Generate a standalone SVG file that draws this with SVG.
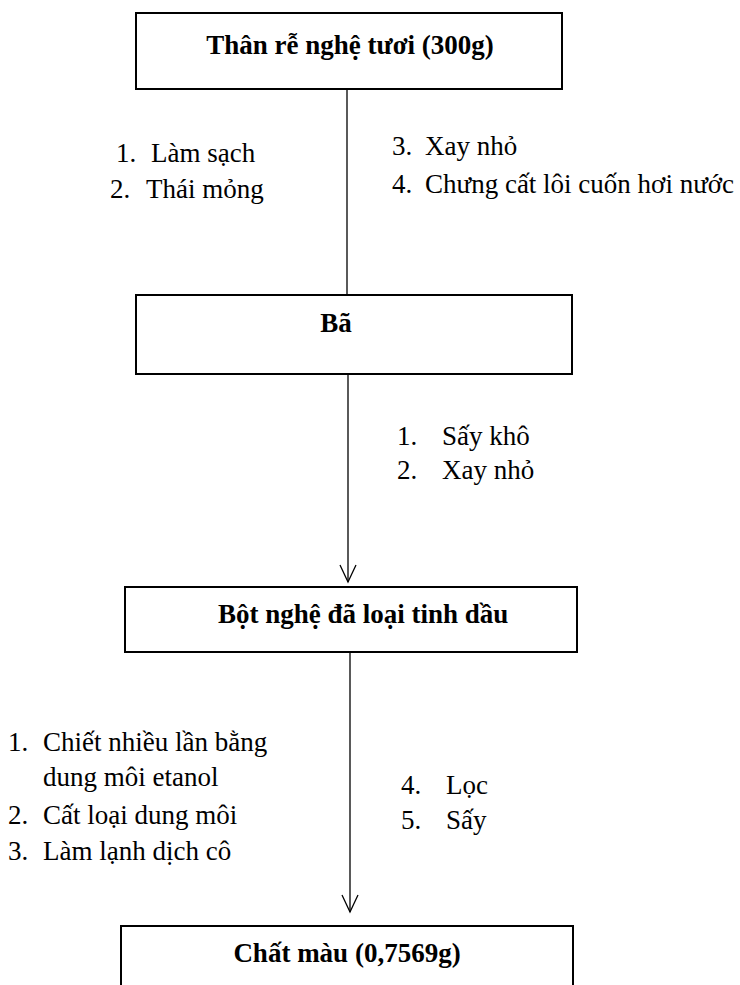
<svg xmlns="http://www.w3.org/2000/svg" width="740" height="985" viewBox="0 0 740 985">
<style>
.box{fill:#fff;stroke:#000;stroke-width:2}
.t{font-family:'Liberation Serif','DejaVu Serif',serif;font-size:27px;fill:#000}
.b{font-weight:bold}
.c{stroke:#000;stroke-width:1.3;fill:none}
</style>
<rect width="740" height="985" fill="#fff"/>
<g id="connectors">
<line class="c" x1="347" y1="89" x2="347" y2="295"/>
<line class="c" x1="348" y1="374" x2="348" y2="582"/>
<polyline class="c" points="340,565 348,582 356,565"/>
<line class="c" x1="350" y1="652" x2="350" y2="912"/>
<polyline class="c" points="342,895 350,912 358,895"/>
</g>
<g id="node1">
<rect class="box" x="136" y="13" width="426" height="76"/>
<text class="t b" x="350" y="54" text-anchor="middle">Thân rễ nghệ tươi (300g)</text>
</g>
<g id="node2">
<rect class="box" x="136" y="295" width="436" height="79"/>
<text class="t b" x="336" y="332" text-anchor="middle">Bã</text>
</g>
<g id="node3">
<rect class="box" x="125" y="587" width="452" height="65"/>
<text class="t b" x="218" y="623">Bột nghệ đã loại tinh dầu</text>
</g>
<g id="node4">
<path class="box" d="M121,990 V926 H573 V990"/>
<text class="t b" x="347" y="962" text-anchor="middle">Chất màu (0,7569g)</text>
</g>
<g id="labels">
<text class="t" x="116" y="162">1.</text><text class="t" x="151" y="162">Làm sạch</text>
<text class="t" x="110" y="198">2.</text><text class="t" x="146" y="198">Thái mỏng</text>
<text class="t" x="392" y="155">3.</text><text class="t" x="425" y="155">Xay nhỏ</text>
<text class="t" x="392" y="193">4.</text><text class="t" x="425" y="193">Chưng cất lôi cuốn hơi nước</text>
<text class="t" x="397" y="445">1.</text><text class="t" x="442" y="445">Sấy khô</text>
<text class="t" x="397" y="479">2.</text><text class="t" x="442" y="479">Xay nhỏ</text>
<text class="t" x="8" y="751">1.</text><text class="t" x="43" y="751">Chiết nhiều lần bằng</text>
<text class="t" x="43" y="786">dung  môi etanol</text>
<text class="t" x="8" y="824">2.</text><text class="t" x="43" y="824">Cất loại dung môi</text>
<text class="t" x="8" y="860">3.</text><text class="t" x="43" y="860">Làm lạnh dịch cô</text>
<text class="t" x="401" y="794">4.</text><text class="t" x="446" y="794">Lọc</text>
<text class="t" x="401" y="829">5.</text><text class="t" x="446" y="829">Sấy</text>
</g>
</svg>
